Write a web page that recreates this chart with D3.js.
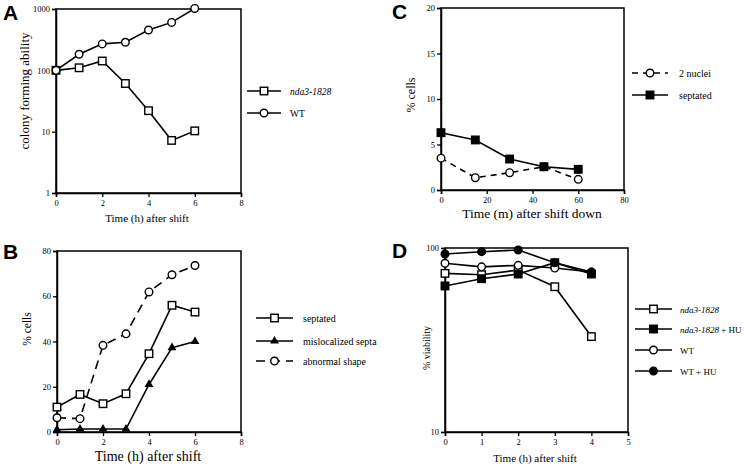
<!DOCTYPE html>
<html><head><meta charset="utf-8">
<script src="https://cdn.jsdelivr.net/npm/d3@7"></script>
<style>body{margin:0;background:#fff}svg{display:block}
svg text{font-family:"Liberation Serif","Times New Roman","DejaVu Serif",serif}
svg text.letter{font-family:"Liberation Sans",Arial,sans-serif;font-weight:bold}</style>
</head><body>
<svg id="c" width="744" height="469"></svg>
<script>
// Panel A
const hoursA = [0,1,2,3,4,5,6];
const aNda3 = [100,110,142,61,22,7.2,10.3];
const aWT = [100,183,270,287,455,605,1020];
// Panel B
const hoursB = [0,1,2,3,4,5,6];
const bSeptated = [11,16.6,12.5,16.9,34.6,56,53];
const bMisloc = [1.0,1.3,1.3,1.3,21,37.3,40];
const bAbnormal = [6.3,5.9,38.3,43.4,61.9,69.5,73.6];
// Panel C
const minutesC = [0,15,30,45,60];
const c2nuclei = [3.5,1.35,1.9,2.56,1.17];
const cSeptated = [6.3,5.5,3.4,2.56,2.27];
// Panel D
const hoursD = [0,1,2,3,4];
const dNda3 = [72.8,71.6,75.9,61.6,33];
const dNda3HU = [62.2,68.1,72.2,83.2,72.2];
const dWT = [82.6,79,80.5,77.8,74];
const dWTHU = [92.8,95.5,97.5,83.2,74];
// ticks
const ticksA_x=[0,2,4,6,8], ticksA_y=[1,10,100,1000];
const ticksB_x=[0,2,4,6,8], ticksB_y=[0,20,40,60,80];
const ticksC_x=[0,20,40,60,80], ticksC_y=[0,5,10,15,20];
const ticksD_x=[0,1,2,3,4,5], ticksD_y=[10,100];

const svg = d3.select("#c");

function marker(g, type, x, y){
  const s=7.5;
  if(type==="osq"||type==="fsq"){
    g.append("rect").attr("x",x-s/2).attr("y",y-s/2).attr("width",s).attr("height",s)
     .attr("fill",type==="fsq"?"#000":"#fff").attr("stroke","#000").attr("stroke-width",1.4);
  } else if(type==="oci"||type==="fci"){
    g.append("circle").attr("cx",x).attr("cy",y).attr("r",3.8)
     .attr("fill",type==="fci"?"#000":"#fff").attr("stroke","#000").attr("stroke-width",1.4);
  } else if(type==="tri"){
    g.append("path").attr("d",d3.symbol(d3.symbolTriangle,34)()).attr("transform",`translate(${x},${y})`).attr("fill","#000");
  }
}

function panel(o){
  const g = svg.append("g");
  const x = d3.scaleLinear().domain(o.xd).range([o.x0,o.x1]);
  const y = (o.log?d3.scaleLog():d3.scaleLinear()).domain(o.yd).range([o.y0,o.y1]);
  g.append("rect").attr("x",o.x0).attr("y",o.y1).attr("width",o.x1-o.x0).attr("height",o.y0-o.y1)
   .attr("fill","none").attr("stroke","#000").attr("stroke-width",1.5);
  const ax = g.append("g").attr("transform",`translate(0,${o.y0})`)
   .call(d3.axisBottom(x).tickValues(o.xt).tickFormat(d3.format("d")).tickSize(4).tickPadding(3));
  const ay = g.append("g").attr("transform",`translate(${o.x0},0)`)
   .call(d3.axisLeft(y).tickValues(o.yt).tickFormat(d3.format("d")).tickSize(4).tickPadding(2));
  [ax,ay].forEach(a=>{a.attr("font-family",null);
    a.select(".domain").attr("stroke-width",1.5);
    a.selectAll("line").attr("stroke-width",1.3);
    a.selectAll("text").attr("font-size",o.tfs||8.5).attr("fill","#000");});
  o.series.forEach(s=>{
    const line=d3.line().x((d,i)=>x(o.xs[i])).y(d=>y(d));
    g.append("path").attr("d",line(s.v)).attr("fill","none").attr("stroke","#000")
     .attr("stroke-width",1.6).attr("stroke-dasharray",s.dash||null);
  });
  o.series.forEach(s=>{ s.v.forEach((d,i)=>marker(g,s.m,x(o.xs[i]),y(d))); });
  g.append("text").attr("x",o.lx).attr("y",o.ly).attr("text-anchor","middle")
   .attr("font-size",o.xfs).text(o.xlabel);
  g.append("text").attr("transform",`translate(${o.ylx},${o.yly}) rotate(-90)`).attr("text-anchor","middle")
   .attr("font-size",o.yfs).text(o.ylabel);
  g.append("text").attr("class","letter").attr("x",o.px).attr("y",o.py).attr("font-size",21).text(o.letter);
  o.series.forEach((s,i)=>{
    const ly=o.legY[i];
    g.append("line").attr("x1",o.legX0).attr("x2",o.legX1).attr("y1",ly).attr("y2",ly)
     .attr("stroke","#000").attr("stroke-width",1.6).attr("stroke-dasharray",s.dash||null);
    marker(g,s.m,(o.legX0+o.legX1)/2,ly);
    const t=g.append("text").attr("x",o.legT).attr("y",ly+3.5).attr("font-size",o.lfs||10);
    if(s.it){t.append("tspan").attr("font-style","italic").text(s.it);}
    if(s.name){t.append("tspan").text(s.name);}
  });
}

panel({letter:"A",px:3,py:20,xd:[0,8],x0:56,x1:241,yd:[1,1000],log:true,y0:193,y1:9,xt:ticksA_x,yt:ticksA_y,xs:hoursA,
  series:[{v:aNda3,m:"osq",it:"nda3-1828"},{v:aWT,m:"oci",name:"WT"}],
  xlabel:"Time (h) after shift",lx:147,ly:222,xfs:11,ylabel:"colony forming ability",ylx:29,yly:91,yfs:13,
  legX0:247,legX1:281,legY:[91,113],legT:290,lfs:9.5});
panel({letter:"B",px:3,py:259,xd:[0,8],x0:57,x1:241,yd:[0,80],y0:432,y1:251,xt:ticksB_x,yt:ticksB_y,xs:hoursB,
  series:[{v:bSeptated,m:"osq",name:"septated"},{v:bMisloc,m:"tri",name:"mislocalized septa"},{v:bAbnormal,m:"oci",name:"abnormal shape",dash:"9,6"}],
  xlabel:"Time (h) after shift",lx:148,ly:461,xfs:14,ylabel:"% cells",ylx:31,yly:329,yfs:11.5,
  legX0:256,legX1:293,legY:[318,341,361],legT:303});
panel({letter:"C",px:392,py:19,xd:[0,80],x0:441,x1:624,yd:[0,20],y0:190,y1:8,xt:ticksC_x,yt:ticksC_y,xs:minutesC,
  series:[{v:c2nuclei,m:"oci",name:"2 nuclei",dash:"6,5"},{v:cSeptated,m:"fsq",name:"septated"}],
  xlabel:"Time (m) after shift down",lx:532,ly:218,xfs:13.5,ylabel:"% cells",ylx:415,yly:95,yfs:12,
  legX0:632,legX1:668,legY:[73,95],legT:679});
panel({letter:"D",px:392,py:258,xd:[0,5],x0:445,x1:628,yd:[10,100],log:true,y0:432,y1:248,xt:ticksD_x,yt:ticksD_y,xs:hoursD,
  series:[{v:dNda3,m:"osq",it:"nda3-1828"},{v:dNda3HU,m:"fsq",it:"nda3-1828",name:" + HU"},{v:dWT,m:"oci",name:"WT"},{v:dWTHU,m:"fci",name:"WT + HU"}],
  xlabel:"Time (h) after shift",lx:535,ly:462,xfs:11,ylabel:"% viability",ylx:430,yly:348,yfs:10,
  legX0:635,legX1:672,legY:[309,329,350,371],legT:680,lfs:9});
</script>
</body></html>
